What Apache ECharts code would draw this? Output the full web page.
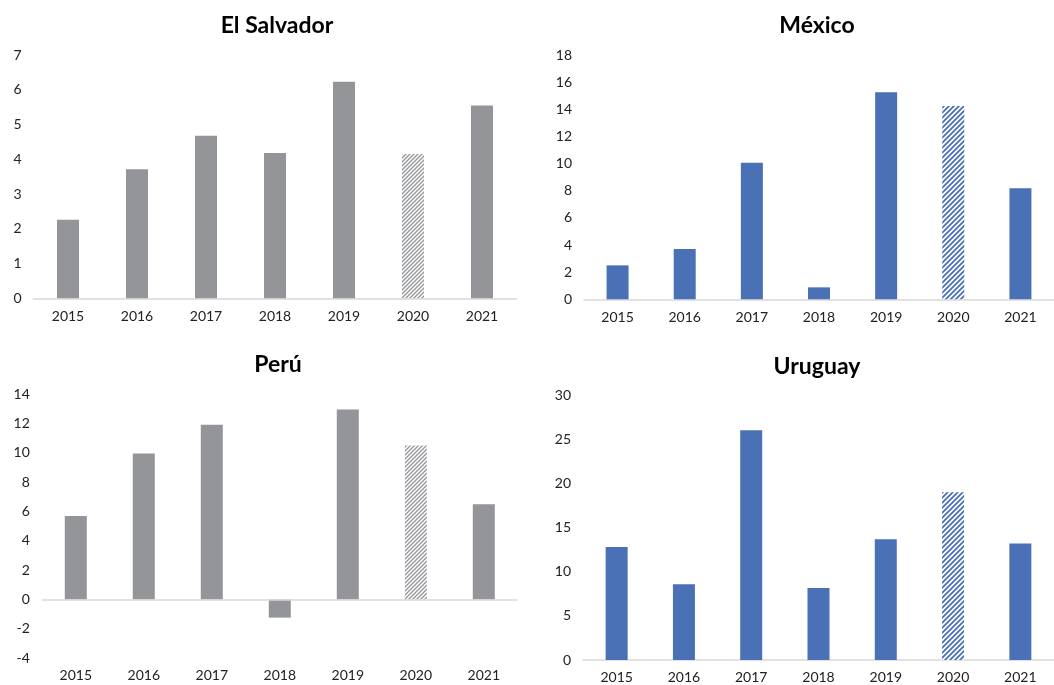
<!DOCTYPE html>
<html>
<head>
<meta charset="utf-8">
<script src="https://cdn.jsdelivr.net/npm/echarts@6/dist/echarts.min.js"></script>
<style>
  html, body { margin: 0; padding: 0; background: #fff; }
  #chart { width: 1054px; height: 685px; }
</style>
</head>
<body>
<div id="chart"></div>
<script>
// data
const years = ['2015', '2016', '2017', '2018', '2019', '2020', '2021'];
const titles = ['El Salvador', 'México', 'Perú', 'Uruguay'];
const elSalvador = [2.26, 3.71, 4.68, 4.18, 6.23, 4.15, 5.55];
const mexico = [2.5, 3.71, 10.07, 0.88, 15.25, 14.25, 8.18];
const peru = [5.69, 9.95, 11.9, -1.23, 12.95, 10.5, 6.5];
const uruguay = [12.8, 8.57, 26.0, 8.15, 13.67, 19.0, 13.2];
// y axis ranges: [min, max, interval]
const yRanges = [[0, 7, 1], [0, 18, 2], [-4, 14, 2], [0, 30, 5]];
const hatchedYear = '2020';

const GRAY = '#939598';
const BLUE = '#4a70b5';
const FONT = 'Lato';

// diagonal hatch for the 2020 bar
function hatch(color, size, lw) {
    let c = document.createElement('canvas');
    c.width = size; c.height = size;
    let ctx = c.getContext('2d');
    ctx.fillStyle = '#fff';
    ctx.fillRect(0, 0, size, size);
    ctx.strokeStyle = color;
    ctx.lineWidth = lw;
    ctx.beginPath();
    ctx.moveTo(-1, size + 1); ctx.lineTo(size + 1, -1);
    ctx.moveTo(-1, 1); ctx.lineTo(1, -1);
    ctx.moveTo(size - 1, size + 1); ctx.lineTo(size + 1, size - 1);
    ctx.stroke();
    return { image: c, repeat: 'repeat' };
}

const grids = [
    { left: 33.5, top: 55, width: 483, height: 243.3 },
    { left: 584, top: 55, width: 479, height: 244.3 },
    { left: 41.8, top: 394, width: 476, height: 264.3 },
    { left: 583, top: 395, width: 480, height: 265 }
];
const titlePos = [[272, 9], [812, 9], [273, 348], [812, 350]];
const datasets = [elSalvador, mexico, peru, uruguay];
const colors = [GRAY, BLUE, GRAY, BLUE];

let chart = echarts.init(document.getElementById('chart'));
let option = {
    animation: false,
    textStyle: { fontFamily: FONT },
    title: titles.map((t, i) => ({
        text: t,
        left: titlePos[i][0],
        top: titlePos[i][1],
        textAlign: 'center',
        textStyle: { fontFamily: FONT, fontSize: 23, fontWeight: 'bold', color: '#000' }
    })),
    grid: grids,
    xAxis: grids.map((g, i) => ({
        type: 'category',
        gridIndex: i,
        data: years,
        axisTick: { show: false },
        axisLine: i === 2 ? { show: false, onZero: false } : { lineStyle: { color: '#d9d9d9', width: 1.5 } },
        axisLabel: { color: '#222', fontSize: 14, margin: i >= 2 ? 10 : 11 }
    })),
    yAxis: yRanges.map((r, i) => ({
        type: 'value',
        gridIndex: i,
        min: r[0], max: r[1], interval: r[2],
        splitLine: { show: false },
        axisLine: { show: false },
        axisTick: { show: false },
        axisLabel: { color: '#222', fontSize: 14, margin: 12 }
    })),
    series: datasets.map((vals, i) => {
        let s = {
            type: 'bar',
            xAxisIndex: i,
            yAxisIndex: i,
            barWidth: 22,
            data: vals.map((v, k) => years[k] === hatchedYear
                ? { value: v, itemStyle: { color: hatch(colors[i], colors[i] === GRAY ? 4 : 5, colors[i] === GRAY ? 1.3 : 1.8) } }
                : v),
            itemStyle: { color: colors[i] }
        };
        if (i === 2) {
            // zero line for Perú, with labels kept at the bottom
            s.markLine = {
                silent: true,
                symbol: 'none',
                label: { show: false },
                lineStyle: { color: '#d9d9d9', width: 1.5, type: 'solid' },
                data: [{ yAxis: 0 }]
            };
        }
        return s;
    })
};
chart.setOption(option);
</script>
</body>
</html>
